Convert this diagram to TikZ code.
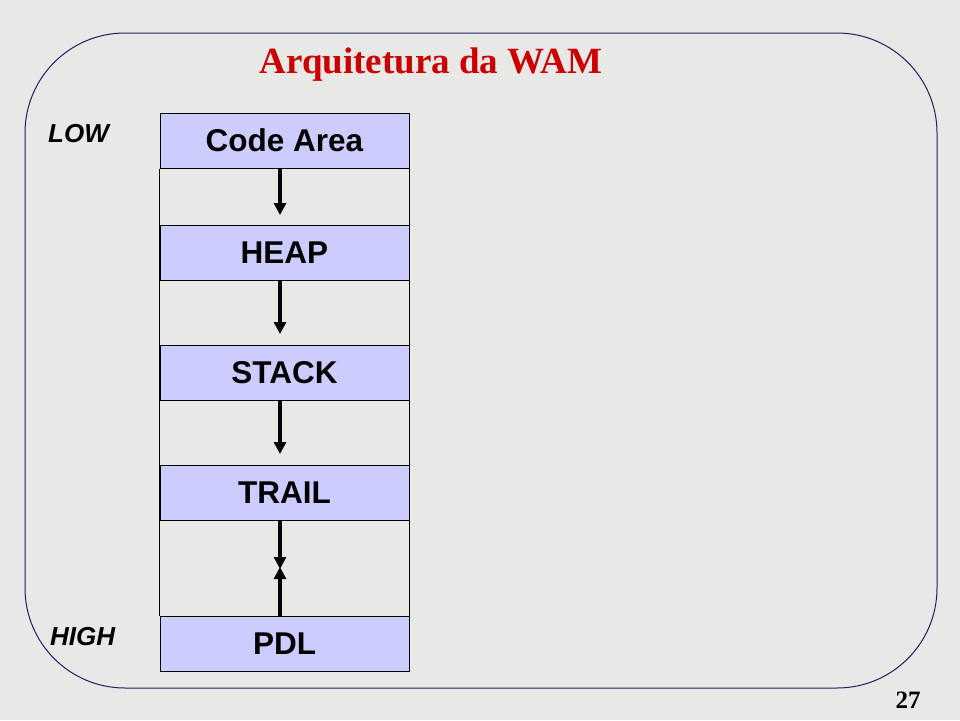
\documentclass[tikz,border=0pt]{standalone}
\usepackage{fontspec}
\setmainfont{Liberation Serif}
\setsansfont{Liberation Sans}
\usetikzlibrary{arrows.meta}
\definecolor{bgc}{RGB}{232,232,230}
\definecolor{boxc}{RGB}{204,204,255}
\definecolor{framec}{RGB}{30,30,100}
\definecolor{titlec}{RGB}{204,0,0}
\begin{document}
\begin{tikzpicture}[x=1pt,y=-1pt,
  membox/.style={draw=black,line width=1pt,fill=boxc,minimum width=249pt,minimum height=55pt,inner sep=0pt,
    font=\sffamily\bfseries\fontsize{31.5}{34}\selectfont},
  side/.style={draw=black,line width=1pt},
  arr/.style={line width=4pt,-{Triangle[length=12pt,width=12pt]}},
  lbl/.style={font=\sffamily\bfseries\itshape\fontsize{26}{28}\selectfont,anchor=west,inner sep=0pt}]
\useasboundingbox (0,0) rectangle (960,720);
\fill[bgc] (0,0) rectangle (960,720);
\draw[framec,line width=1pt,rounded corners=100pt] (25,33) rectangle (937,688);
\node[font=\bfseries\fontsize{37}{40}\selectfont,text=titlec] (title) at (431,65) {Arquitetura da WAM};
\node[membox] (ca) at (284.5,140.5) {Code Area};
\node[membox] (heap) at (284.5,252.5) {HEAP};
\node[membox] (stack) at (284.5,372.5) {STACK};
\node[membox] (trail) at (284.5,492.5) {TRAIL};
\node[membox] (pdl) at (284.5,644) {PDL};
\draw[side] (ca.south west) -- (pdl.north west);
\draw[side] (ca.south east) -- (pdl.north east);
\coordinate (t1) at (280,215);
\coordinate (t2) at (280,334);
\coordinate (t3) at (280,454);
\coordinate (t4) at (280,569);
\coordinate (t5) at (280,567);
\draw[arr] (ca.south -| t1) -- (t1);
\draw[arr] (heap.south -| t2) -- (t2);
\draw[arr] (stack.south -| t3) -- (t3);
\draw[arr] (trail.south -| t4) -- (t4);
\draw[arr] (pdl.north -| t5) -- (t5);
\node[lbl] (low) at (48,134) {LOW};
\node[lbl] (high) at (50,637) {HIGH};
\node[font=\bfseries\fontsize{25}{28}\selectfont] (num) at (908,700) {27};
\end{tikzpicture}
\end{document}
